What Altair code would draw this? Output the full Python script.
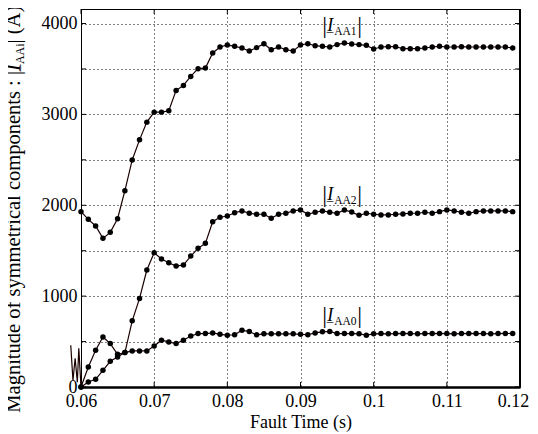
import altair as alt
import pandas as pd

# ---------------- data ----------------
t = [0.060, 0.061, 0.062, 0.063, 0.064, 0.065, 0.066, 0.067, 0.068, 0.069,
     0.070, 0.071, 0.072, 0.073, 0.074, 0.075, 0.076, 0.077, 0.078, 0.079,
     0.080, 0.081, 0.082, 0.083, 0.084, 0.085, 0.086, 0.087, 0.088, 0.089,
     0.090, 0.091, 0.092, 0.093, 0.094, 0.095, 0.096, 0.097, 0.098, 0.099,
     0.100, 0.101, 0.102, 0.103, 0.104, 0.105, 0.106, 0.107, 0.108, 0.109,
     0.110, 0.111, 0.112, 0.113, 0.114, 0.115, 0.116, 0.117, 0.118, 0.119]

i_aa1 = [1930, 1845, 1772, 1636, 1702, 1852, 2161, 2499, 2720, 2915,
         3025, 3025, 3040, 3264, 3319, 3418, 3503, 3510, 3676, 3742,
         3764, 3749, 3731, 3698, 3735, 3778, 3712, 3742, 3712, 3698,
         3764, 3778, 3756, 3749, 3742, 3768, 3786, 3775, 3768, 3760,
         3720, 3742, 3745, 3745, 3723, 3723, 3723, 3731, 3742, 3749,
         3742, 3742, 3745, 3742, 3742, 3742, 3742, 3742, 3742, 3731]

i_aa2 = [0, 220, 405, 551, 478, 360, 379, 728, 975, 1287,
         1478, 1408, 1367, 1331, 1342, 1441, 1526, 1581, 1819, 1868,
         1882, 1918, 1938, 1912, 1901, 1901, 1857, 1901, 1912, 1938,
         1949, 1901, 1923, 1938, 1923, 1912, 1949, 1925, 1890, 1912,
         1901, 1894, 1894, 1901, 1905, 1912, 1912, 1923, 1912, 1930,
         1949, 1938, 1923, 1912, 1930, 1938, 1938, 1938, 1938, 1930]

i_aa0 = [0, 55, 85, 184, 283, 331, 379, 397, 397, 397,
         452, 515, 496, 478, 515, 562, 588, 588, 595, 580,
         570, 575, 625, 610, 574, 585, 585, 585, 585, 585,
         580, 575, 595, 607, 612, 588, 588, 588, 585, 570,
         585, 588, 585, 588, 590, 588, 585, 588, 588, 590,
         588, 585, 588, 590, 588, 588, 585, 588, 590, 588]

# small pre-fault wiggle drawn just left of the axis
pre_t = [0.0586, 0.0589, 0.0592, 0.0595, 0.0597, 0.0600]
pre_v = [460, 73, 316, 52, 427, 0]

x_ticks = [0.06, 0.07, 0.08, 0.09, 0.10, 0.11, 0.12]
y_ticks = [0, 500, 1000, 1500, 2000, 2500, 3000, 3500, 4000]

label_names = ["AA1", "AA2", "AA0"]
label_t = [0.09296, 0.09296, 0.09296]
label_v = [3915, 2062, 725]

# ---------------- layout / style ----------------
W, H = 439, 378
FONT = "Liberation Serif"
LINE_COLOR = "#1c0000"

rows = []
for name, vals in [("AA1", i_aa1), ("AA2", i_aa2), ("AA0", i_aa0)]:
    for tt, vv in zip(t, vals):
        rows.append({"series": name, "t": tt, "v": vv})
df = pd.DataFrame(rows)
pre_df = pd.DataFrame({"t": pre_t, "v": pre_v})
lab_df = pd.DataFrame({"name": label_names, "t": label_t, "v": label_v})
xt_df = pd.DataFrame({"t": x_ticks})
yt_df = pd.DataFrame({"v": y_ticks})
one = pd.DataFrame({"a": [0]})

xs = alt.Scale(domain=[0.06, 0.12], nice=False, zero=False)
ys = alt.Scale(domain=[0, 4160], nice=False, zero=False)

x_enc = alt.X("t:Q", scale=xs, axis=alt.Axis(
    values=x_ticks, format=".2~f", title="Fault Time (s)", grid=True,
    ticks=False, labelPadding=5, titlePadding=3, domainWidth=2.5,
    domainColor="black", labelFlush=False,
    labelOffset={"condition": {"test": "datum.value > 0.115", "value": -7},
                 "value": 0}))
y_enc = alt.Y("v:Q", scale=ys, axis=alt.Axis(
    values=y_ticks, format="d",
    labelExpr="datum.value % 1000 === 0 ? datum.label : ''",
    title=None, grid=True, ticks=False, labelPadding=4,
    domainColor="black", labelFlush=False))

X = alt.X("t:Q", scale=xs)
Y = alt.Y("v:Q", scale=ys)

lines = alt.Chart(df).mark_line(color=LINE_COLOR, strokeWidth=1.2).encode(
    x=x_enc, y=y_enc, detail="series:N")
points = alt.Chart(df).mark_circle(size=30, color="black", opacity=1).encode(
    x=X, y=Y)
pre = alt.Chart(pre_df).mark_line(color=LINE_COLOR, strokeWidth=1.2,
                                  clip=False).encode(x=X, y=Y)

# inward ticks on all four sides
tick_l = alt.Chart(yt_df).mark_rule(color="black").encode(
    y=Y, x=alt.value(0), x2=alt.value(5))
tick_r = alt.Chart(yt_df).mark_rule(color="black").encode(
    y=Y, x=alt.value(W - 5), x2=alt.value(W))
tick_b = alt.Chart(xt_df).mark_rule(color="black").encode(
    x=X, y=alt.value(H), y2=alt.value(H - 5))
tick_t = alt.Chart(xt_df).mark_rule(color="black").encode(
    x=X, y=alt.value(0), y2=alt.value(5))
right_edge = alt.Chart(one).mark_rule(color="black", strokeWidth=2).encode(
    x=alt.value(W), y=alt.value(0), y2=alt.value(H))

# in-plot labels |I_AAx|
def lab(text=None, field=None, size=18, dx=0, dy=0, italic=False):
    kw = dict(align="left", baseline="alphabetic", font=FONT, fontSize=size,
              dx=dx, dy=dy, color="black")
    if italic:
        kw["fontStyle"] = "italic"
    if text is not None:
        kw["text"] = text
        return alt.Chart(lab_df).mark_text(**kw).encode(x=X, y=Y)
    return alt.Chart(lab_df).mark_text(**kw).encode(
        x=X, y=Y, text=f"{field}:N")

labels = [
    lab(text="|", size=24, dx=0, dy=2),
    lab(text="I", size=18, dx=5, italic=True),
    lab(text="_", size=13, dx=4.5, dy=0),
    lab(field="name", size=11.5, dx=12, dy=4),
    lab(text="|", size=24, dx=35, dy=2),
]

# rotated y-axis title built from pieces
F, S = 20.5, 12
y0 = 403.7
xb = -61.4
y_I = y0 - 16.671 * F
y_sub = y_I - 0.333 * F
y_end = y_sub - 1.722 * S

def ytxt(text, y, x=xb, size=F, italic=False):
    kw = dict(align="left", baseline="alphabetic", font=FONT, fontSize=size,
              angle=270, text=text, color="black")
    if italic:
        kw["fontStyle"] = "italic"
    return alt.Chart(one).mark_text(**kw).encode(x=alt.value(x), y=alt.value(y))

ytitle = [
    ytxt("Magnitude of symmetrical components : |", y0),
    ytxt("I", y_I, italic=True),
    ytxt("_", y_I + 0.5, x=xb - 1, size=14),
    ytxt("AAi", y_sub, x=xb + 4, size=S),
    ytxt("| (A)", y_end),
]

chart = alt.layer(
    tick_l, tick_r, tick_b, tick_t, right_edge,
    lines, pre, points, *labels, *ytitle
).properties(
    width=W, height=H,
    autosize=alt.AutoSizeParams(type="none"),
    padding={"left": 73, "top": 1, "right": 10, "bottom": 45},
).configure_view(
    stroke="black", strokeWidth=1
).configure_axis(
    gridColor="black", gridDash=[1, 3], gridOpacity=1, gridWidth=1,
    labelFont=FONT, labelFontSize=18, labelColor="black",
    titleFont=FONT, titleFontSize=18, titleFontWeight="normal",
    titleColor="black",
)

chart.save("out.html", embed_options={"renderer": "svg", "actions": False})
